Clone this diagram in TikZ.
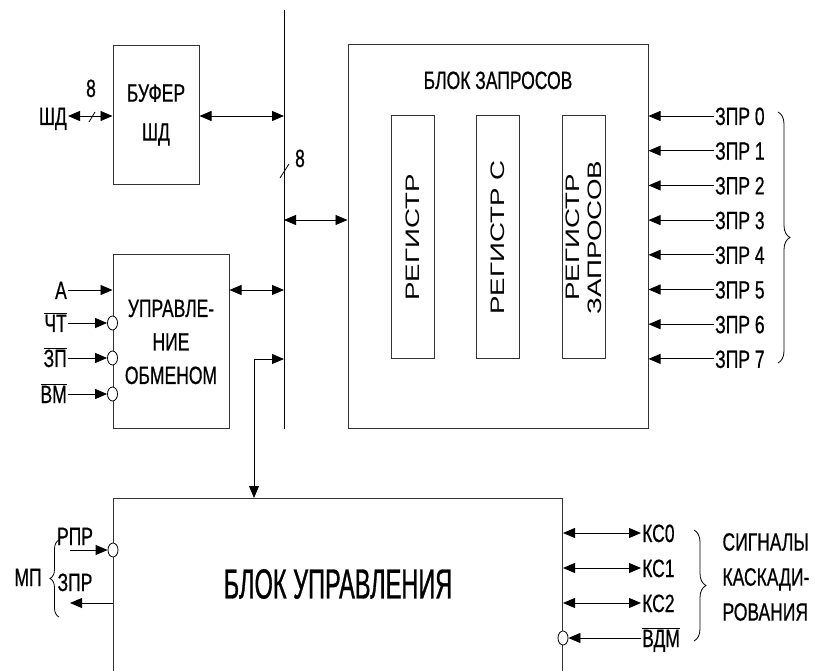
\documentclass[tikz,border=0pt]{standalone}
\usepackage{fontspec}
\setmainfont[FakeStretch=0.7, FakeBold=0.6]{Liberation Sans}
\newfontfamily\regfont[FakeStretch=1.42]{Liberation Sans}
\newfontfamily\bigfont[FakeStretch=0.56, FakeBold=0.8]{Liberation Sans}
\usetikzlibrary{arrows.meta,shapes.geometric,decorations.pathreplacing}
\newcommand{\ovl}[1]{$\overline{\mbox{#1}}$}

\tikzset{
  blk/.style={draw=black!80, line width=1pt, inner sep=0pt, align=center},
  reg/.style={draw=black!80, line width=1pt, minimum width=243pt, minimum height=43pt,
    inner sep=0pt, align=center, font=\regfont\fontsize{19.5}{22}\selectfont},
  lbl/.style={inner sep=1pt, font=\fontsize{25}{29}\selectfont, text height=18pt, text depth=0pt},
  wire/.style={line width=0.8pt},
  sig/.style={wire, -{Triangle[length=12pt,width=10pt]}},
  bidir/.style={wire, {Triangle[length=12pt,width=10pt]}-{Triangle[length=12pt,width=10pt]}},
  bubble/.style={draw, ellipse, minimum width=10pt, minimum height=14pt, inner sep=0pt,
    fill=white, line width=0.8pt},
  brc/.style={wire, decorate, decoration={brace, amplitude=12pt}}
}

\begin{document}
\begin{tikzpicture}[x=1pt, y=-1pt]
  \useasboundingbox (0,0) rectangle (815,671);

  % system bus
  \coordinate (busT) at (284,10);
  \coordinate (busB) at (284,429);
  \draw[line width=1pt] (busT) -- (busB);
  \draw[wire] (280,178) -- (289,164);
  \node[lbl] (busW) at (300,158) {8};

  % data bus buffer
  \node[blk, minimum width=86pt, minimum height=139pt, font=\fontsize{25}{39}\selectfont] (buf) at (156,115) {БУФЕР\\ШД};
  \node[lbl, anchor=east] (shd) at (68,116) {ШД};
  \draw[bidir] (shd) -- (shd -| buf.west);
  \draw[wire] (89,122) -- (95,112);
  \node[lbl] (shdW) at (91,88) {8};
  \draw[bidir] (buf.east |- shd) -- (busT |- shd);

  % exchange control
  \node[blk, minimum width=116pt, minimum height=174pt, font=\fontsize{25}{33.5}\selectfont] (ctrl) at (171,342) {УПРАВЛЕ-\\НИЕ\\ОБМЕНОМ};
  \node[lbl, anchor=east] (inA) at (68,290) {А};
  \draw[sig] (inA) -- (inA -| ctrl.west);
  \foreach \nm/\txt/\y in {rd/ЧТ/323, wr/ЗП/358, cs/ВМ/394} {
    \node[lbl, anchor=east] (in\nm) at (68,\y) {\ovl{\txt}};
    \node[bubble] (bb\nm) at (ctrl.west |- in\nm) {};
    \draw[sig] (in\nm) -- (bb\nm);
  }
  \draw[bidir] (ctrl.east |- inA) -- (busT |- inA);

  % request block
  \node[blk, minimum width=300pt, minimum height=384pt] (req) at (498,237) {};
  \node[lbl] (reqT) at (498,80) {БЛОК ЗАПРОСОВ};
  \coordinate (busReq) at (284,220);
  \draw[bidir] (busReq) -- (busReq -| req.west);
  \node[reg, rotate=90] (mask) at (412.5,237.5) {РЕГИСТР};
  \node[reg, rotate=90] (isr) at (498,237.5) {РЕГИСТР С};
  \node[reg, rotate=90] (irr) at (583.5,237.5) {РЕГИСТР\\ЗАПРОСОВ};
  \foreach \i in {0,...,7} {
    \node[lbl, anchor=west] (zpr\i) at (714,{116+34.7*\i}) {ЗПР \i};
    \draw[sig] (zpr\i) -- (zpr\i -| req.east);
  }
  \draw[brc] (778,112) -- (778,363);

  % control block
  \node[blk, anchor=north west, minimum width=449pt, minimum height=200pt] (cu) at (113,498) {};
  \node[font=\bigfont\fontsize{42}{48}\selectfont] (cuT) at (338,584) {БЛОК УПРАВЛЕНИЯ};
  \coordinate (busCu) at (284,359);
  \coordinate (bend) at (254,359);
  \draw[bidir] (busCu) -- (bend) -- (bend |- cu.north);

  % cascade master
  \node[lbl] (rpr) at (75,536) {РПР};
  \node[bubble] (bbrpr) at (cu.west |- 0,550) {};
  \coordinate (rprIn) at (70,550);
  \draw[sig] (rprIn) -- (bbrpr);
  \node[lbl] (zprL) at (75,582) {ЗПР};
  \coordinate (zprOut) at (70,603);
  \draw[sig] (zprOut -| cu.west) -- (zprOut);
  \node[lbl] (mp) at (28,577) {МП};
  \draw[brc, decoration={amplitude=9pt}] (59,617) -- (59,540);

  % cascade signals
  \foreach \n/\y in {0/533, 1/568, 2/603} {
    \node[lbl, anchor=west] (ks\n) at (641,\y) {КС\n};
    \draw[bidir] (ks\n) -- (ks\n -| cu.east);
  }
  \node[lbl, anchor=west] (vdm) at (641,638) {\ovl{ВДМ}};
  \node[bubble] (bbvdm) at (vdm -| cu.east) {};
  \draw[sig] (vdm) -- (bbvdm);
  \draw[brc] (694,530) -- (694,641);
  \node[anchor=west, align=left, font=\fontsize{25}{35}\selectfont] (casc) at (719,577) {СИГНАЛЫ\\КАСКАДИ-\\РОВАНИЯ};
\end{tikzpicture}
\end{document}
